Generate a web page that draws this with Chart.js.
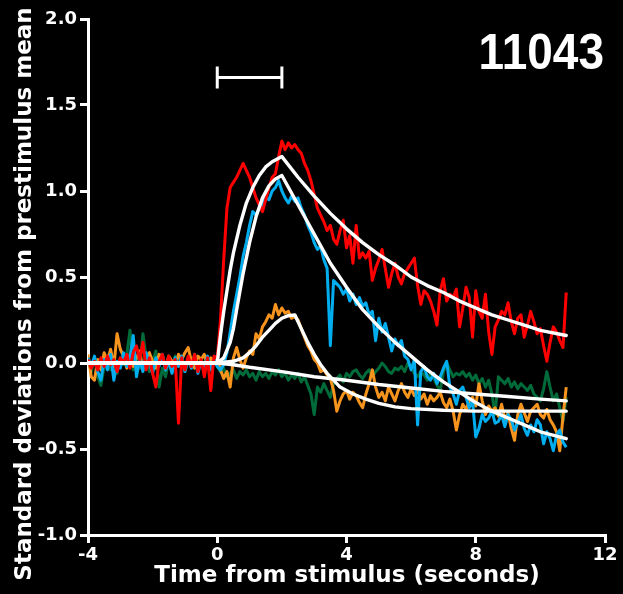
<!DOCTYPE html>
<html><head><meta charset="utf-8">
<script src="https://cdn.jsdelivr.net/npm/chart.js@4/dist/chart.umd.min.js"></script>
<style>html,body{margin:0;padding:0;background:#000;overflow:hidden}#wrap{width:623px;height:594px}</style>
</head><body><div id="wrap"><canvas id="c" width="623" height="594"></canvas></div>
<script>
// Sample times (seconds from stimulus)
const times = [-4.0,-3.9,-3.8,-3.7,-3.6,-3.5,-3.4,-3.3,-3.2,-3.1,-3.0,-2.9,-2.8,-2.7,-2.6,-2.5,-2.4,-2.3,-2.2,-2.1,
-2.0,-1.9,-1.8,-1.7,-1.6,-1.5,-1.4,-1.3,-1.2,-1.1,-1.0,-0.9,-0.8,-0.7,-0.6,-0.5,-0.4,-0.3,-0.2,-0.1,
0.0,0.1,0.2,0.3,0.4,0.5,0.6,0.7,0.8,0.9,1.0,1.1,1.2,1.3,1.4,1.5,1.6,1.7,1.8,1.9,
2.0,2.1,2.2,2.3,2.4,2.5,2.6,2.7,2.8,2.9,3.0,3.1,3.2,3.3,3.4,3.5,3.6,3.7,3.8,3.9,
4.0,4.1,4.2,4.3,4.4,4.5,4.6,4.7,4.8,4.9,5.0,5.1,5.2,5.3,5.4,5.5,5.6,5.7,5.8,5.9,
6.0,6.1,6.2,6.3,6.4,6.5,6.6,6.7,6.8,6.9,7.0,7.1,7.2,7.3,7.4,7.5,7.6,7.7,7.8,7.9,
8.0,8.1,8.2,8.3,8.4,8.5,8.6,8.7,8.8,8.9,9.0,9.1,9.2,9.3,9.4,9.5,9.6,9.7,9.8,9.9,
10.0,10.1,10.2,10.3,10.4,10.5,10.6,10.7,10.8];

const redSeries = [0.02,-0.03,0.01,-0.04,0.03,-0.02,0.04,-0.01,0.02,-0.05,
0.03,0.00,0.05,-0.03,0.06,0.10,0.02,0.12,-0.04,0.03,
-0.06,-0.14,0.01,0.05,-0.03,0.04,-0.02,0.02,-0.35,0.03,
-0.04,0.04,-0.02,0.05,-0.05,0.02,-0.08,0.03,-0.16,0.04,
0.03,0.25,0.60,0.90,1.02,1.05,1.08,1.12,1.16,1.12,
1.08,1.02,0.96,0.92,0.88,0.95,1.02,1.08,1.10,1.20,
1.29,1.24,1.28,1.25,1.27,1.24,1.22,1.16,1.12,1.06,
0.98,0.90,0.86,0.82,0.77,0.80,0.72,0.69,0.77,0.83,
0.67,0.74,0.58,0.80,0.61,0.64,0.61,0.65,0.48,0.55,
0.60,0.66,0.55,0.44,0.52,0.58,0.50,0.46,0.52,0.55,
0.58,0.61,0.45,0.34,0.42,0.40,0.36,0.30,0.22,0.42,
0.49,0.36,0.40,0.38,0.43,0.21,0.32,0.44,0.38,0.15,
0.42,0.30,0.26,0.40,0.18,0.05,0.21,0.25,0.30,0.28,
0.35,0.24,0.17,0.26,0.28,0.15,0.22,0.30,0.24,0.17,
0.20,0.10,0.01,0.12,0.21,0.18,0.13,0.09,0.41];

const blueSeries = [0.03,-0.02,0.04,-0.05,-0.10,0.02,-0.04,0.05,-0.10,0.01,
-0.03,0.06,-0.02,0.04,0.16,-0.08,0.02,-0.05,0.06,0.00,
-0.06,0.03,-0.02,0.05,-0.04,0.01,-0.06,0.03,-0.02,0.04,
-0.05,0.02,-0.03,0.05,-0.06,0.01,-0.03,0.04,-0.04,0.02,
-0.02,-0.04,-0.01,0.06,0.18,0.30,0.40,0.50,0.62,0.70,
0.80,0.88,0.86,0.90,0.92,0.96,0.95,1.00,1.02,1.06,
1.00,0.96,0.93,0.97,0.94,0.96,0.90,0.86,0.80,0.76,
0.70,0.66,0.68,0.60,0.55,0.10,0.48,0.46,0.44,0.40,
0.43,0.36,0.40,0.34,0.38,0.33,0.35,0.28,0.30,0.13,
0.26,0.18,0.23,0.15,0.07,0.14,0.10,0.13,0.04,0.02,
-0.04,0.02,-0.36,-0.05,-0.02,-0.08,-0.10,-0.06,-0.12,-0.08,
-0.03,0.01,-0.14,-0.18,-0.24,-0.16,-0.14,-0.20,-0.26,-0.22,
-0.43,-0.38,-0.30,-0.34,-0.32,-0.28,-0.35,-0.34,-0.30,-0.37,
-0.30,-0.33,-0.39,-0.35,-0.30,-0.38,-0.42,-0.36,-0.40,-0.33,
-0.36,-0.47,-0.40,-0.44,-0.51,-0.42,-0.39,-0.46,-0.49];

const orangeSeries = [0.05,-0.08,-0.10,0.02,-0.04,0.06,0.01,0.08,-0.02,0.17,
0.08,0.04,-0.03,0.05,-0.02,0.03,0.07,-0.04,0.02,0.06,
0.01,-0.03,0.05,0.03,-0.02,0.04,0.01,-0.03,0.05,0.02,
0.06,0.09,0.01,-0.03,0.04,0.02,0.05,-0.02,0.03,0.01,
0.02,-0.04,-0.09,-0.05,-0.14,0.03,0.09,0.02,-0.03,0.03,
0.07,0.05,0.17,0.14,0.21,0.24,0.28,0.26,0.34,0.28,
0.32,0.29,0.30,0.26,0.27,0.25,0.20,0.15,0.10,0.07,
0.02,0.00,-0.05,-0.04,-0.07,-0.09,-0.16,-0.28,-0.22,-0.18,
-0.16,-0.21,-0.17,-0.19,-0.23,-0.26,-0.18,-0.12,-0.04,-0.14,
-0.20,-0.17,-0.22,-0.14,-0.18,-0.22,-0.16,-0.12,-0.17,-0.20,
-0.15,-0.19,-0.16,-0.21,-0.18,-0.24,-0.19,-0.22,-0.20,-0.17,
-0.23,-0.26,-0.21,-0.28,-0.39,-0.30,-0.24,-0.27,-0.22,-0.20,
-0.25,-0.12,-0.22,-0.30,-0.25,-0.28,-0.26,-0.31,-0.24,-0.33,
-0.29,-0.38,-0.45,-0.30,-0.24,-0.29,-0.34,-0.28,-0.26,-0.24,
-0.30,-0.32,-0.27,-0.33,-0.36,-0.40,-0.51,-0.31,-0.14];

const greenSeries = [0.02,-0.05,0.03,-0.08,-0.13,-0.02,0.04,-0.04,0.02,-0.06,
0.03,-0.01,0.05,0.19,-0.04,0.02,-0.03,0.17,0.03,-0.05,
0.01,0.07,-0.14,-0.03,-0.08,0.02,-0.03,0.04,-0.02,0.01,
-0.05,0.03,-0.02,0.04,-0.03,0.02,-0.04,0.01,-0.03,0.02,
-0.02,-0.05,-0.03,-0.08,-0.06,-0.04,-0.09,-0.05,-0.07,-0.04,
-0.08,-0.06,-0.10,-0.05,-0.08,-0.06,-0.09,-0.05,-0.07,-0.04,
-0.08,-0.06,-0.10,-0.07,-0.09,-0.06,-0.11,-0.08,-0.13,-0.18,
-0.30,-0.14,-0.17,-0.12,-0.16,-0.20,-0.12,-0.09,-0.07,-0.11,
-0.06,-0.08,-0.05,-0.04,-0.07,-0.09,-0.06,-0.04,-0.08,-0.05,
-0.03,0.00,-0.02,-0.05,-0.06,-0.03,-0.04,-0.02,-0.05,0.00,
-0.03,-0.06,-0.08,-0.05,-0.07,-0.10,-0.06,-0.09,-0.13,-0.16,
-0.05,0.00,-0.04,-0.08,-0.06,-0.07,-0.05,-0.08,-0.06,-0.10,
-0.07,-0.12,-0.09,-0.14,-0.10,-0.18,-0.30,-0.08,-0.10,-0.12,
-0.09,-0.14,-0.11,-0.15,-0.12,-0.14,-0.16,-0.13,-0.18,-0.20,
-0.22,-0.15,-0.05,-0.14,-0.22,-0.18,-0.26,-0.34,-0.20];

// Fitted curves (time, value)
const fitRedT = [-4,0,0.1,0.2,0.3,0.4,0.5,0.7,0.9,1.1,1.3,1.5,1.7,2.0,2.5,3,3.5,4,4.5,5,5.5,6,6.5,7,7.5,8,8.5,9,9.5,10,10.8];
const fitRedY = [0,0,0.16,0.30,0.42,0.54,0.64,0.80,0.93,1.02,1.09,1.14,1.17,1.20,1.08,0.97,0.87,0.78,0.70,0.63,0.57,0.50,0.45,0.41,0.36,0.32,0.28,0.25,0.22,0.19,0.16];
const fitBlueT = [-4,0,0.2,0.4,0.5,0.6,0.8,1.0,1.2,1.4,1.6,1.8,2.0,2.5,3,3.5,4,4.5,5,5.5,6,6.5,7,7.5,8,8.5,9,9.5,10,10.8];
const fitBlueY = [0,0,0.03,0.12,0.20,0.31,0.52,0.70,0.85,0.96,1.03,1.07,1.09,0.92,0.75,0.58,0.44,0.31,0.21,0.12,0.04,-0.04,-0.11,-0.17,-0.23,-0.28,-0.32,-0.36,-0.40,-0.44];
const fitOrangeT = [-4,0,0.5,0.8,1.0,1.2,1.4,1.6,1.8,2.0,2.2,2.4,2.6,2.8,3.0,3.2,3.4,3.6,3.8,4.2,4.6,5,5.5,6,7,8,10.8];
const fitOrangeY = [0,0,0.01,0.03,0.06,0.10,0.15,0.19,0.23,0.26,0.275,0.28,0.20,0.12,0.05,-0.01,-0.06,-0.10,-0.14,-0.18,-0.21,-0.235,-0.255,-0.265,-0.275,-0.28,-0.28];
const fitGreenT = [-4,0,0.5,1,2,3,4,5,6,7,8,9,10,10.8];
const fitGreenY = [0,0,-0.01,-0.025,-0.05,-0.08,-0.10,-0.125,-0.145,-0.165,-0.18,-0.195,-0.21,-0.22];

// Stimulus window marker
const stimulusWindow = [0, 2];
const stimulusMarkerLevel = 1.66;

const panelLabel = '11043';
const xTitle = 'Time from stimulus (seconds)';
const yTitle = 'Standard deviations from prestimulus mean';

const pairs = (ts, ys) => ts.map((t, i) => ({x: t, y: ys[i]}));
const FONT = 'DejaVu Sans';

function dataLine(ys, color, order) {
  return {data: pairs(times, ys), borderColor: color, borderWidth: 3, pointRadius: 0,
    tension: 0, borderJoinStyle: 'round', order: order};
}
function fitLine(ts, ys) {
  return {data: pairs(ts, ys), borderColor: '#ffffff', borderWidth: 3.4, pointRadius: 0,
    tension: 0, borderJoinStyle: 'round', borderCapStyle: 'round', order: 0};
}

const overlay = {
  id: 'overlay',
  afterDraw(chart) {
    const ctx = chart.ctx, xs = chart.scales.x, ys = chart.scales.y;
    // stimulus bar
    const x0 = xs.getPixelForValue(stimulusWindow[0]);
    const x1 = xs.getPixelForValue(stimulusWindow[1]);
    const yb = ys.getPixelForValue(stimulusMarkerLevel);
    ctx.save();
    ctx.strokeStyle = '#fff'; ctx.lineWidth = 3; ctx.lineCap = 'butt';
    ctx.beginPath();
    ctx.moveTo(x0, yb); ctx.lineTo(x1, yb);
    ctx.moveTo(x0, yb - 11); ctx.lineTo(x0, yb + 11);
    ctx.moveTo(x1, yb - 11); ctx.lineTo(x1, yb + 11);
    ctx.stroke();
    // panel label
    ctx.fillStyle = '#fff';
    ctx.font = 'bold 50px "Liberation Sans", Arial, sans-serif';
    ctx.textAlign = 'right'; ctx.textBaseline = 'alphabetic';
    ctx.save();
    ctx.translate(604, 69); ctx.scale(0.92, 1);
    ctx.fillText(panelLabel, 0, 0);
    ctx.restore();
    // axis titles
    ctx.font = 'bold 23px "' + FONT + '"';
    ctx.textAlign = 'center'; ctx.textBaseline = 'alphabetic';
    ctx.fillText(xTitle, 347, 582);
    ctx.save();
    ctx.translate(31, 294); ctx.rotate(-Math.PI / 2);
    ctx.fillText(yTitle, 0, 0);
    ctx.restore();
    ctx.restore();
  }
};

new Chart(document.getElementById('c'), {
  type: 'line',
  data: {
    datasets: [
      fitLine(fitRedT, fitRedY),
      fitLine(fitBlueT, fitBlueY),
      fitLine(fitOrangeT, fitOrangeY),
      fitLine(fitGreenT, fitGreenY),
      dataLine(redSeries, '#ff0000', 1),
      dataLine(blueSeries, '#00aeef', 2),
      dataLine(orangeSeries, '#f7941d', 3),
      dataLine(greenSeries, '#006b3a', 4)
    ]
  },
  options: {
    responsive: false, animation: false, events: [],
    layout: {padding: {left: 0, top: 19, right: 18, bottom: 0}},
    plugins: {legend: {display: false}, tooltip: {enabled: false}},
    scales: {
      x: {
        type: 'linear', min: -4, max: 12,
        afterFit(s) { s.height = 59; },
        ticks: {stepSize: 4, color: '#fff', padding: 2, maxRotation: 0,
          font: {family: FONT, weight: 'bold', size: 18}},
        grid: {drawOnChartArea: false, drawTicks: true, tickLength: 8, color: '#fff', lineWidth: 3},
        border: {display: true, color: '#fff', width: 3}
      },
      y: {
        type: 'linear', min: -1, max: 2,
        afterFit(s) { s.width = 88; },
        ticks: {stepSize: 0.5, color: '#fff', padding: 3,
          callback: v => Number(v).toFixed(1),
          font: {family: FONT, weight: 'bold', size: 18}},
        grid: {drawOnChartArea: false, drawTicks: true, tickLength: 8, color: '#fff', lineWidth: 3},
        border: {display: true, color: '#fff', width: 3}
      }
    }
  },
  plugins: [overlay]
});
</script>
</body></html>
